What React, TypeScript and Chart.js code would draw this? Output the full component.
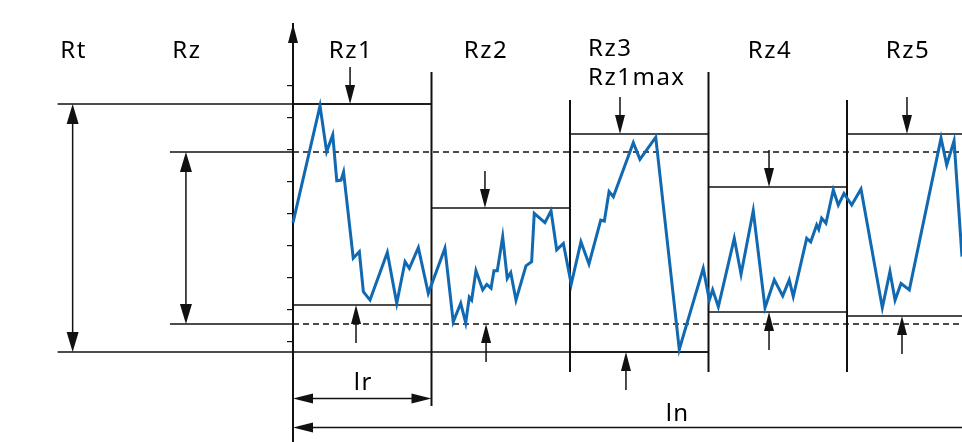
import React, { useEffect, useRef } from "react";
import { Chart, registerables } from "chart.js";

Chart.register(...registerables);

// ---------- data (x in sampling lengths lr, y in µm) ----------
const profileX = [
  0, 0.195, 0.243, 0.287, 0.316, 0.347, 0.365, 0.435, 0.479, 0.508,
  0.556, 0.681, 0.749, 0.809, 0.84, 0.905, 0.977, 1.097, 1.157, 1.211,
  1.247, 1.273, 1.29, 1.321, 1.37, 1.399, 1.43, 1.451, 1.475, 1.514,
  1.547, 1.572, 1.61, 1.682, 1.723, 1.742, 1.819, 1.863, 1.904, 1.952,
  2.009, 2.079, 2.137, 2.222, 2.248, 2.282, 2.313, 2.457, 2.505, 2.619,
  2.789, 2.962, 3.006, 3.03, 3.071, 3.186, 3.235, 3.323, 3.408, 3.475,
  3.536, 3.583, 3.612, 3.709, 3.738, 3.781, 3.796, 3.817, 3.848, 3.901,
  3.937, 3.978, 4.034, 4.101, 4.255, 4.31, 4.347, 4.39, 4.45, 4.679,
  4.72, 4.773, 4.83,
];
const profileY = [
  3.73, 7.38, 5.95, 6.47, 5.04, 5.06, 5.31, 2.62, 2.82, 1.57,
  1.31, 2.8, 1.21, 2.51, 2.3, 2.95, 1.52, 2.93, 0.63, 1.21,
  0.6, 1.4, 1.31, 2.23, 1.63, 1.8, 1.68, 2.23, 2.23, 3.29,
  1.99, 2.17, 1.31, 2.38, 2.51, 4.02, 3.73, 4.1, 2.88, 3.08,
  1.81, 3.13, 2.44, 3.81, 3.78, 4.7, 4.54, 6.23, 5.71, 6.4,
  -0.23, 2.3, 1.31, 1.63, 1.1, 3.24, 2.12, 4.1, 1.07, 1.94,
  1.44, 1.94, 1.42, 3.24, 3.13, 3.66, 3.52, 3.87, 3.71, 4.75,
  4.28, 4.64, 4.28, 4.78, 1.07, 2.2, 1.31, 1.83, 1.63, 6.37,
  5.53, 6.29, 2.67,
];
const segmentStarts = [0, 1, 2, 3, 4];
const segmentLabels = ["Rz1", "Rz2", "Rz3", "Rz4", "Rz5"];
const peakLevels = [7.44, 4.19, 6.5, 4.84, 6.5];
const valleyLevels = [1.16, 0.56, -0.31, 0.94, 0.81];
const rtLevels = [7.44, -0.31];
const rzLevels = [5.94, 0.56];
const axisTicks = [0, 1, 2, 3, 4, 5, 6, 7, 8];
const xRange = [-2.1155, 4.8303];
const yRange = [-3.125, 9.9375];

// ---------- layout (positions of annotation glyphs) ----------
const RT_X = -1.591;
const RZ_X = -0.773;
const DOWN_OFF = [0.412, 0.386, 0.361, 0.437, 0.433];
const UP_OFF = [0.455, 0.394, 0.404, 0.437, 0.397];
const BOUNDARY_TOP = [72, 100, 72, 100];
const BOUNDARY_BOTTOM = [406, 372, 372, 372];

const BLUE = "#1169b1";
const INK = "#111111";
const FONT = '24px "Noto Sans", "Open Sans", sans-serif';
const LW = 1.5;

function arrowHead(ctx: CanvasRenderingContext2D, tx: number, ty: number, dx: number, dy: number, len = 19, hw = 5.5) {
  const l = Math.hypot(dx, dy) || 1;
  const ux = dx / l, uy = dy / l;
  const bx = tx - ux * len, by = ty - uy * len;
  ctx.beginPath();
  ctx.moveTo(tx, ty);
  ctx.lineTo(bx - uy * hw, by + ux * hw);
  ctx.lineTo(bx + uy * hw, by - ux * hw);
  ctx.closePath();
  ctx.fill();
}

const annotations = {
  id: "roughnessAnnotations",
  beforeDatasetsDraw(chart: any) {
    const { ctx, chartArea } = chart;
    const X = (v: number) => chart.scales.x.getPixelForValue(v);
    const Y = (v: number) => chart.scales.y.getPixelForValue(v);
    const right = chartArea.right;
    ctx.save();
    ctx.strokeStyle = INK;
    ctx.fillStyle = INK;
    ctx.lineCap = "butt";

    const line = (x1: number, y1: number, x2: number, y2: number, w = LW, dash: number[] = []) => {
      ctx.save();
      ctx.lineWidth = w;
      ctx.setLineDash(dash);
      ctx.beginPath();
      ctx.moveTo(x1, y1);
      ctx.lineTo(x2, y2);
      ctx.stroke();
      ctx.restore();
    };

    // Rt lines
    const rtX = X(RT_X);
    const rzX = X(RZ_X);
    line(rtX - 15, Y(rtLevels[0]), X(1), Y(rtLevels[0]));
    line(rtX - 15, Y(rtLevels[1]), X(3), Y(rtLevels[1]));
    // Rz lines: solid left part, dashed across profile
    for (const lv of rzLevels) {
      line(rzX - 16, Y(lv), X(0), Y(lv));
      line(X(0), Y(lv), right, Y(lv), LW, [6, 4]);
    }
    // segment peak / valley lines
    segmentStarts.forEach((s, i) => {
      const x1 = X(s);
      const x2 = Math.min(X(s + 1), right);
      line(x1, Y(peakLevels[i]), x2, Y(peakLevels[i]));
      const v = valleyLevels[i];
      if (Math.abs(v - rzLevels[1]) > 0.05) line(x1, Y(v), x2, Y(v));
    });
    // boundaries
    for (let i = 1; i < segmentStarts.length; i++) {
      const bx = X(segmentStarts[i]);
      line(bx, BOUNDARY_TOP[i - 1], bx, BOUNDARY_BOTTOM[i - 1], 2);
    }
    // Rt / Rz double arrows
    const dbl = (x: number, y1: number, y2: number) => {
      line(x, y1 + 10, x, y2 - 10, LW);
      arrowHead(ctx, x, y1, 0, -1, 20, 6);
      arrowHead(ctx, x, y2, 0, 1, 20, 6);
    };
    dbl(rtX, Y(rtLevels[0]), Y(rtLevels[1]));
    dbl(rzX, Y(rzLevels[0]), Y(rzLevels[1]));
    // segment arrows
    segmentStarts.forEach((s, i) => {
      const dx = X(s + DOWN_OFF[i]);
      const yp = Y(peakLevels[i]);
      line(dx, yp - 37, dx, yp - 8, LW);
      arrowHead(ctx, dx, yp, 0, 1, 19, 5);
      const ux = X(s + UP_OFF[i]);
      const yv = Y(valleyLevels[i]);
      line(ux, yv + 38, ux, yv + 8, LW);
      arrowHead(ctx, ux, yv, 0, -1, 19, 5);
    });
    // axis arrow head
    arrowHead(ctx, X(0), chartArea.top, 0, -1, 19, 5);
    // lr and ln arrows
    const x0 = X(0);
    line(x0 + 8, 398.5, X(1) - 8, 398.5, LW);
    arrowHead(ctx, x0, 398.5, -1, 0, 20, 5);
    arrowHead(ctx, X(1), 398.5, 1, 0, 20, 5);
    line(x0 + 8, 427.5, right, 427.5, LW);
    arrowHead(ctx, x0, 427.5, -1, 0, 20, 5);

    // texts
    ctx.font = FONT;
    (ctx as any).letterSpacing = "1.5px";
    ctx.textBaseline = "alphabetic";
    ctx.textAlign = "center";
    ctx.fillStyle = "#000";
    ctx.fillText("Rt", rtX + 1, 57.5);
    ctx.fillText("Rz", rzX + 1, 57.5);
    segmentStarts.forEach((s, i) => {
      if (i === 2) return;
      ctx.fillText(segmentLabels[i], X(s + DOWN_OFF[i]) + 1, 57.5);
    });
    ctx.textAlign = "left";
    ctx.fillText(segmentLabels[2], X(2.13), 56);
    ctx.fillText("Rz1max", X(2.13), 85);
    ctx.textAlign = "center";
    ctx.fillText("lr", X(0.5) + 1, 390);
    ctx.fillText("ln", X(2.77) + 1, 421);
    ctx.restore();
  },
};

export default function App() {
  const ref = useRef<HTMLCanvasElement>(null);
  useEffect(() => {
    const chart = new Chart(ref.current as HTMLCanvasElement, {
      type: "line",
      data: {
        datasets: [
          {
            data: profileX.map((x, i) => ({ x, y: profileY[i] })),
            borderColor: BLUE,
            borderWidth: 3,
            pointRadius: 0,
            tension: 0,
            fill: false,
            borderJoinStyle: "miter",
          } as any,
        ],
      },
      options: {
        responsive: true,
        maintainAspectRatio: false,
        animation: false,
        events: [],
        layout: { padding: { top: 24, left: 0, right: 0, bottom: 0 } },
        plugins: { legend: { display: false }, tooltip: { enabled: false } },
        scales: {
          x: { type: "linear", display: false, min: xRange[0], max: xRange[1] },
          y: {
            type: "linear",
            min: yRange[0],
            max: yRange[1],
            position: { x: 0 } as any,
            afterBuildTicks: (s: any) => {
              s.ticks = axisTicks.map((v) => ({ value: v }));
            },
            ticks: { display: false },
            grid: { drawOnChartArea: false, drawTicks: true, tickLength: 5, color: INK, lineWidth: 1.2 },
            border: { display: true, color: INK, width: 2 },
          },
        },
      } as any,
      plugins: [annotations],
    });
    return () => chart.destroy();
  }, []);
  return (
    <div style={{ position: "absolute", left: 0, top: 0, width: 962, height: 442 }}>
      <canvas ref={ref} />
    </div>
  );
}
